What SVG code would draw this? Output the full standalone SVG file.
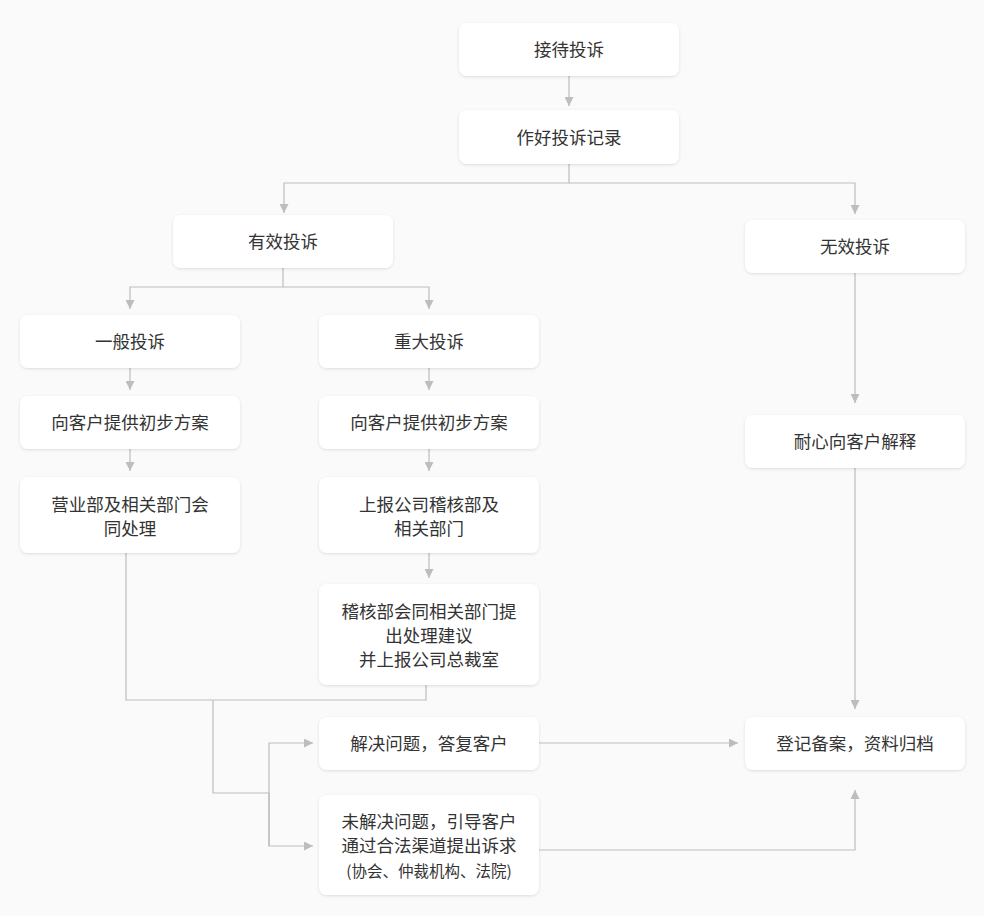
<svg xmlns="http://www.w3.org/2000/svg" width="984" height="916" viewBox="0 0 984 916">
<defs>
<filter id="sh" x="-10%" y="-20%" width="120%" height="140%">
<feDropShadow dx="0" dy="1" stdDeviation="1.5" flood-color="#000" flood-opacity="0.12"/>
</filter>
<marker id="ar" viewBox="0 0 10 10" refX="10" refY="5" markerWidth="9" markerHeight="9" markerUnits="userSpaceOnUse" orient="auto">
<path d="M0,0 L10,5 L0,10 z" fill="#bdbdbd"/>
</marker>
<style>
.n rect{fill:#fff;filter:url(#sh)}
.n text{font-family:"Noto Sans CJK SC","Noto Sans",sans-serif;font-size:17.5px;fill:#333;text-anchor:middle}
.n text.s{font-size:15.5px}
#conn path{fill:none;stroke:#bdbdbd;stroke-width:1.2}
</style>
</defs>
<rect width="984" height="916" fill="#fafafa"/>
<g id="conn">
<path d="M569,76 V106" marker-end="url(#ar)"/>
<path d="M569,164 V183 H284 V213" marker-end="url(#ar)"/>
<path d="M569,183 H855 V214" marker-end="url(#ar)"/>
<path d="M283,268 V287 H130 V309" marker-end="url(#ar)"/>
<path d="M283,287 H429 V309" marker-end="url(#ar)"/>
<path d="M130,368 V390" marker-end="url(#ar)"/>
<path d="M429,368 V390" marker-end="url(#ar)"/>
<path d="M130,449 V471" marker-end="url(#ar)"/>
<path d="M429,449 V471" marker-end="url(#ar)"/>
<path d="M429,553 V578" marker-end="url(#ar)"/>
<path d="M126,553 V700 H426 V685"/>
<path d="M213,700 V793 H269"/>
<path d="M269,846 V743 H313" marker-end="url(#ar)"/>
<path d="M269,793 V846 H313" marker-end="url(#ar)"/>
<path d="M855,273 V403" marker-end="url(#ar)"/>
<path d="M855,468 V709" marker-end="url(#ar)"/>
<path d="M539,743 H738" marker-end="url(#ar)"/>
<path d="M539,850 H855 V790" marker-end="url(#ar)"/>
</g>
<g id="n1" class="n"><rect x="459" y="23" width="220" height="53" rx="8"/><text x="569" y="56">接待投诉</text></g>
<g id="n2" class="n"><rect x="459" y="110" width="220" height="54" rx="8"/><text x="569" y="144">作好投诉记录</text></g>
<g id="n3" class="n"><rect x="173" y="215" width="220" height="53" rx="8"/><text x="283" y="248">有效投诉</text></g>
<g id="n4" class="n"><rect x="745" y="220" width="220" height="53" rx="8"/><text x="855" y="253">无效投诉</text></g>
<g id="n5" class="n"><rect x="20" y="315" width="220" height="53" rx="8"/><text x="130" y="348">一般投诉</text></g>
<g id="n6" class="n"><rect x="319" y="315" width="220" height="53" rx="8"/><text x="429" y="348">重大投诉</text></g>
<g id="n7" class="n"><rect x="20" y="396" width="220" height="53" rx="8"/><text x="130" y="429">向客户提供初步方案</text></g>
<g id="n8" class="n"><rect x="319" y="396" width="220" height="53" rx="8"/><text x="429" y="429">向客户提供初步方案</text></g>
<g id="n9" class="n"><rect x="20" y="477" width="220" height="76" rx="8"/><text x="130" y="511">营业部及相关部门会</text><text x="130" y="535">同处理</text></g>
<g id="n10" class="n"><rect x="319" y="477" width="220" height="76" rx="8"/><text x="429" y="511">上报公司稽核部及</text><text x="429" y="535">相关部门</text></g>
<g id="n11" class="n"><rect x="319" y="584" width="220" height="101" rx="8"/><text x="429" y="618">稽核部会同相关部门提</text><text x="429" y="642">出处理建议</text><text x="429" y="666">并上报公司总裁室</text></g>
<g id="n12" class="n"><rect x="745" y="415" width="220" height="53" rx="8"/><text x="855" y="448">耐心向客户解释</text></g>
<g id="n13" class="n"><rect x="319" y="717" width="220" height="53" rx="8"/><text x="429" y="750">解决问题，答复客户</text></g>
<g id="n14" class="n"><rect x="319" y="795" width="220" height="100" rx="8"/><text x="429" y="828">未解决问题，引导客户</text><text x="429" y="852">通过合法渠道提出诉求</text><text class="s" x="429" y="877">(协会、仲裁机构、法院)</text></g>
<g id="n15" class="n"><rect x="745" y="717" width="220" height="53" rx="8"/><text x="855" y="750">登记备案，资料归档</text></g>
</svg>
